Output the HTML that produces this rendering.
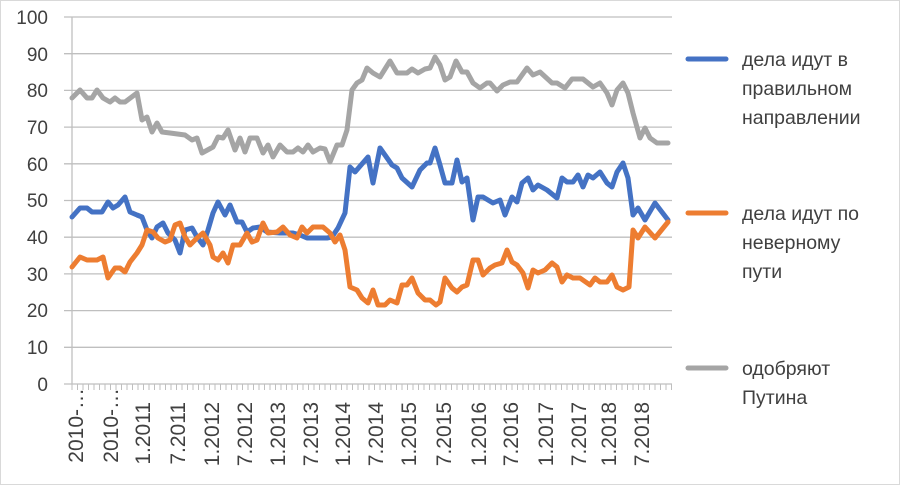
<!DOCTYPE html>
<html><head><meta charset="utf-8"><style>
body{margin:0;background:#fff}
svg{display:block;font-family:"Liberation Sans",Arial,sans-serif}
</style></head><body>
<svg width="900" height="485" viewBox="0 0 900 485">
<rect x="0.5" y="0.5" width="899" height="484" fill="#fff" stroke="#d9d9d9"/>
<g stroke="#bfbfbf" stroke-width="1.3">
<line x1="64" y1="17" x2="672" y2="17"/><line x1="64" y1="53.7" x2="672" y2="53.7"/><line x1="64" y1="90.4" x2="672" y2="90.4"/><line x1="64" y1="127.1" x2="672" y2="127.1"/><line x1="64" y1="163.8" x2="672" y2="163.8"/><line x1="64" y1="200.5" x2="672" y2="200.5"/><line x1="64" y1="237.2" x2="672" y2="237.2"/><line x1="64" y1="273.9" x2="672" y2="273.9"/><line x1="64" y1="310.6" x2="672" y2="310.6"/><line x1="64" y1="347.3" x2="672" y2="347.3"/><line x1="64" y1="384" x2="672" y2="384"/>
<line x1="72" y1="384" x2="72" y2="17"/>
</g>
<path stroke="#bfbfbf" stroke-width="1" d="M72 384v6M77.5 384v6M83 384v6M88.5 384v6M94 384v6M99.5 384v6M105 384v6M110.5 384v6M116 384v6M121.5 384v6M127 384v6M132.5 384v6M138 384v6M143.5 384v6M149 384v6M154.5 384v6M160 384v6M165.5 384v6M171 384v6M176.5 384v6M182 384v6M187.5 384v6M193 384v6M198.5 384v6M204 384v6M209.5 384v6M215 384v6M220.5 384v6M226 384v6M231.5 384v6M237 384v6M242.5 384v6M248 384v6M253.5 384v6M259 384v6M264.5 384v6M270 384v6M275.5 384v6M281 384v6M286.5 384v6M292 384v6M297.5 384v6M303 384v6M308.5 384v6M314 384v6M319.5 384v6M325 384v6M330.5 384v6M336 384v6M341.5 384v6M347 384v6M352.5 384v6M358 384v6M363.5 384v6M369 384v6M374.5 384v6M380 384v6M385.5 384v6M391 384v6M396.5 384v6M402 384v6M407.5 384v6M413 384v6M418.5 384v6M424 384v6M429.5 384v6M435 384v6M440.5 384v6M446 384v6M451.5 384v6M457 384v6M462.5 384v6M468 384v6M473.5 384v6M479 384v6M484.5 384v6M490 384v6M495.5 384v6M501 384v6M506.5 384v6M512 384v6M517.5 384v6M523 384v6M528.5 384v6M534 384v6M539.5 384v6M545 384v6M550.5 384v6M556 384v6M561.5 384v6M567 384v6M572.5 384v6M578 384v6M583.5 384v6M589 384v6M594.5 384v6M600 384v6M605.5 384v6M611 384v6M616.5 384v6M622 384v6M627.5 384v6M633 384v6M638.5 384v6M644 384v6M649.5 384v6M655 384v6M660.5 384v6M666 384v6M671.5 384v6"/>
<g font-size="19" fill="#404040" text-anchor="end">
<text x="48" y="24">100</text><text x="48" y="61">90</text><text x="48" y="97">80</text><text x="48" y="134">70</text><text x="48" y="171">60</text><text x="48" y="207">50</text><text x="48" y="244">40</text><text x="48" y="281">30</text><text x="48" y="317">20</text><text x="48" y="354">10</text><text x="48" y="391">0</text>
</g>
<g font-size="21" fill="#404040" text-anchor="end">
<text transform="translate(83,388) rotate(-90)">2010-…</text>
<text transform="translate(118,388) rotate(-90)">2010-…</text>
<text transform="translate(150,402) rotate(-90)">1.2011</text>
<text transform="translate(185,402) rotate(-90)">7.2011</text>
<text transform="translate(219,402) rotate(-90)">1.2012</text>
<text transform="translate(252,402) rotate(-90)">7.2012</text>
<text transform="translate(285,402) rotate(-90)">1.2013</text>
<text transform="translate(318,402) rotate(-90)">7.2013</text>
<text transform="translate(350,402) rotate(-90)">1.2014</text>
<text transform="translate(383,402) rotate(-90)">7.2014</text>
<text transform="translate(416,402) rotate(-90)">1.2015</text>
<text transform="translate(451,402) rotate(-90)">7.2015</text>
<text transform="translate(486,402) rotate(-90)">1.2016</text>
<text transform="translate(518,402) rotate(-90)">7.2016</text>
<text transform="translate(553,402) rotate(-90)">1.2017</text>
<text transform="translate(586,402) rotate(-90)">7.2017</text>
<text transform="translate(616,402) rotate(-90)">1.2018</text>
<text transform="translate(649,402) rotate(-90)">7.2018</text>
</g>
<g fill="none" stroke-width="5" stroke-linejoin="round" stroke-linecap="round">
<polyline stroke="#a5a5a5" points="72,98 80,90 87,98 92,98 97,90 103,98 110,102 115,98 120,102 125,102 137,93 142,120 147,117 152,132 157,123 162,132 170,133 185,135 192,140 197,138 202,153 213,147 218,137 223,138 228,130 235,150 240,138 245,152 250,138 257,138 263,153 268,145 273,157 280,145 287,152 293,152 298,148 303,152 308,145 313,152 320,148 325,149 330,162 337,145 342,145 347,130 352,90 357,83 362,80 367,68 373,73 380,77 390,61 397,73 407,73 412,69 418,73 425,69 430,68 435,57 440,65 445,80 450,77 456,61 462,72 467,72 473,83 480,88 487,83 490,83 497,91 503,85 510,82 517,82 527,68 533,75 540,72 552,83 557,83 565,88 572,79 583,79 593,87 600,83 607,93 612,105 617,90 623,83 628,93 633,113 640,138 645,128 650,138 657,143 668,143"/>
<polyline stroke="#4472c4" points="72,217 80,208 87,208 92,212 102,212 108,202 113,208 118,205 125,197 130,212 137,215 142,217 147,230 152,238 157,227 163,223 168,233 175,240 180,253 185,230 192,228 197,237 203,245 208,230 213,213 218,202 225,215 230,205 237,222 242,222 247,232 253,228 260,227 267,232 280,233 293,233 300,235 307,238 327,238 332,237 338,228 345,213 350,167 355,172 368,157 373,183 380,148 392,165 397,168 402,178 412,187 420,170 427,163 430,163 435,148 440,165 445,183 452,183 457,160 462,182 467,178 473,220 478,197 483,197 493,203 500,200 505,215 512,197 517,202 522,183 528,178 533,190 538,185 547,190 557,198 562,178 567,182 573,182 578,175 583,187 588,175 593,178 600,172 607,183 612,187 617,172 623,163 628,178 633,215 638,208 645,220 655,203 668,220"/>
<polyline stroke="#ed7d31" points="72,267 80,257 87,260 97,260 103,257 108,278 115,268 120,268 125,272 130,262 137,253 142,245 147,230 153,232 158,238 165,242 170,240 175,225 180,223 185,237 190,245 197,238 203,233 210,245 213,257 218,260 223,253 228,263 233,245 240,245 247,233 252,242 257,240 263,223 268,233 277,232 283,227 290,235 297,238 302,227 307,233 313,227 323,227 330,233 335,242 340,235 345,250 350,287 357,290 362,298 368,303 373,290 378,305 385,305 390,300 397,303 402,285 407,285 412,278 418,293 425,300 430,300 436,305 440,302 445,278 452,288 457,292 462,287 467,285 473,260 478,260 483,275 490,268 495,265 502,263 507,250 512,262 517,265 523,273 528,288 533,270 538,273 545,270 552,263 557,267 562,282 567,275 573,278 580,278 590,285 595,278 600,282 607,282 612,275 617,287 623,290 629,287 633,230 638,238 645,227 655,238 668,222"/>
</g>
<g stroke-width="5" stroke-linecap="round">
<line x1="688" y1="59" x2="726" y2="59" stroke="#4472c4"/>
<line x1="688" y1="213" x2="726" y2="213" stroke="#ed7d31"/>
<line x1="688" y1="368" x2="726" y2="368" stroke="#a5a5a5"/>
</g>
<g font-size="19.5" fill="#404040">
<text x="742" y="66">дела идут в</text><text x="742" y="95">правильном</text><text x="742" y="124">направлении</text>
<text x="742" y="220">дела идут по</text><text x="742" y="249">неверному</text><text x="742" y="278">пути</text>
<text x="742" y="375">одобряют</text><text x="742" y="404">Путина</text>
</g>
</svg>
</body></html>
